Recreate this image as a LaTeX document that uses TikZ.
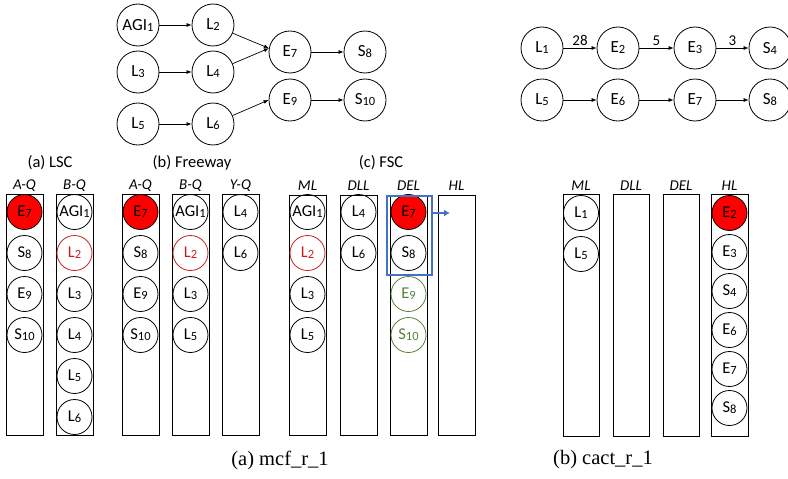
\documentclass[tikz,border=0pt]{standalone}
\usepackage{fontspec}
\newfontfamily\calfont{Carlito}
\newfontfamily\capfont{Liberation Serif}
\usetikzlibrary{arrows.meta}
\definecolor{fillred}{RGB}{255,0,0}
\definecolor{darkred}{RGB}{200,30,30}
\definecolor{mygreen}{RGB}{84,130,53}
\definecolor{myblue}{RGB}{68,114,196}
\newcommand\ix[1]{{\fontsize{12.5}{12.5}\selectfont\raisebox{-1pt}{#1}}}
\begin{document}
\begin{tikzpicture}[x=1pt,y=-1pt,
  big/.style={circle,draw,line width=0.8pt,minimum size=42pt,inner sep=0pt,font=\calfont\fontsize{17}{17}\selectfont},
  sm/.style={circle,draw,line width=0.8pt,minimum size=35pt,inner sep=0pt,font=\calfont\fontsize{16.5}{16.5}\selectfont},
  redfill/.style={fill=fillred},
  redline/.style={draw=darkred,text=darkred},
  greenline/.style={draw=mygreen,text=mygreen},
  colbox/.style={draw,line width=0.8pt},
  arr/.style={-{Latex[length=5pt,width=4pt]},line width=0.7pt},
  qlabel/.style={font=\calfont\itshape\fontsize{15}{15}\selectfont},
  sect/.style={font=\calfont\fontsize{16.5}{16.5}\selectfont},
  wlabel/.style={font=\calfont\fontsize{15}{15}\selectfont,above,inner sep=2pt},
  caption/.style={font=\capfont\fontsize{20.5}{20.5}\selectfont}]
\useasboundingbox (0,0) rectangle (788,479);

% ---------- top-left graph
\node[big] (tAGI) at (138,25) {AGI\ix1};
\node[big] (tL2) at (213,25) {L\ix2};
\node[big] (tL3) at (138,72) {L\ix3};
\node[big] (tL4) at (213,72) {L\ix4};
\node[big] (tL5) at (138,124) {L\ix5};
\node[big] (tL6) at (213,124) {L\ix6};
\node[big] (tE7) at (290,52) {E\ix7};
\node[big] (tS8) at (365,52) {S\ix8};
\node[big] (tE9) at (290,100) {E\ix9};
\node[big] (tS10) at (365,100) {S\ix{10}};
\draw[arr] (tAGI) -- (tL2);
\draw[arr] (tL3) -- (tL4);
\draw[arr] (tL5) -- (tL6);
\draw[arr] (tL2) -- (tE7.170);
\draw[arr] (tL4) -- (tE7.170);
\draw[arr] (tE7) -- (tS8);
\draw[arr] (tL6) -- (tE9.west);
\draw[arr] (tE9) -- (tS10);

% ---------- top-right graph
\node[big] (rL1) at (542,48) {L\ix1};
\node[big] (rE2) at (618,48) {E\ix2};
\node[big] (rE3) at (695,48) {E\ix3};
\node[big] (rS4) at (770,48) {S\ix4};
\node[big] (rL5) at (542,100) {L\ix5};
\node[big] (rE6) at (618,100) {E\ix6};
\node[big] (rE7) at (695,100) {E\ix7};
\node[big] (rS8) at (770,100) {S\ix8};
\draw[arr] (rL1) -- node[wlabel] {28} (rE2);
\draw[arr] (rE2) -- node[wlabel] {5} (rE3);
\draw[arr] (rE3) -- node[wlabel] {3} (rS4);
\draw[arr] (rL5) -- (rE6);
\draw[arr] (rE6) -- (rE7);
\draw[arr] (rE7) -- (rS8);

% ---------- section labels
\node[sect] (sLSC) at (50,163) {(a) LSC};
\node[sect] (sFW) at (192,163) {(b) Freeway};
\node[sect] (sFSC) at (381,163) {(c) FSC};

% ---------- (a) LSC columns
\draw[colbox] (6,194) rectangle (43,435);
\draw[colbox] (56,194) rectangle (93,435);
\node[qlabel] (qa1) at (24.5,186) {A-Q};
\node[qlabel] (qa2) at (74.5,186) {B-Q};
\node[sm,redfill] (aE7) at (24.5,212) {E\ix7};
\node[sm] (aS8) at (24.5,253) {S\ix8};
\node[sm] (aE9) at (24.5,294) {E\ix9};
\node[sm] (aS10) at (24.5,335) {S\ix{10}};
\node[sm] (aAGI) at (74.5,212) {AGI\ix1};
\node[sm,redline] (aL2) at (74.5,253) {L\ix2};
\node[sm] (aL3) at (74.5,294) {L\ix3};
\node[sm] (aL4) at (74.5,335) {L\ix4};
\node[sm] (aL5) at (74.5,376) {L\ix5};
\node[sm] (aL6) at (74.5,417) {L\ix6};

% ---------- (b) Freeway columns
\draw[colbox] (122,194) rectangle (159,435);
\draw[colbox] (172,194) rectangle (209,435);
\draw[colbox] (222,194) rectangle (259,435);
\node[qlabel] (qb1) at (140.5,186) {A-Q};
\node[qlabel] (qb2) at (190.5,186) {B-Q};
\node[qlabel] (qb3) at (240.5,186) {Y-Q};
\node[sm,redfill] (bE7) at (140.5,212) {E\ix7};
\node[sm] (bS8) at (140.5,253) {S\ix8};
\node[sm] (bE9) at (140.5,294) {E\ix9};
\node[sm] (bS10) at (140.5,335) {S\ix{10}};
\node[sm] (bAGI) at (190.5,212) {AGI\ix1};
\node[sm,redline] (bL2) at (190.5,253) {L\ix2};
\node[sm] (bL3) at (190.5,294) {L\ix3};
\node[sm] (bL5) at (190.5,335) {L\ix5};
\node[sm] (bL4) at (240.5,212) {L\ix4};
\node[sm] (bL6) at (240.5,253) {L\ix6};

% ---------- (c) FSC columns
\draw[colbox] (289,195) rectangle (326,435);
\draw[colbox] (340,195) rectangle (377,435);
\draw[colbox] (390,195) rectangle (427,435);
\draw[colbox] (438,195) rectangle (475,435);
\node[qlabel] (qc1) at (307.5,186) {ML};
\node[qlabel] (qc2) at (358.5,186) {DLL};
\node[qlabel] (qc3) at (408.5,186) {DEL};
\node[qlabel] (qc4) at (456.5,186) {HL};
\node[sm] (cAGI) at (307.5,212) {AGI\ix1};
\node[sm,redline] (cL2) at (307.5,253) {L\ix2};
\node[sm] (cL3) at (307.5,294) {L\ix3};
\node[sm] (cL5) at (307.5,335) {L\ix5};
\node[sm] (cL4) at (358.5,212) {L\ix4};
\node[sm] (cL6) at (358.5,253) {L\ix6};
\node[sm,redfill] (cE7) at (408.5,212) {E\ix7};
\node[sm] (cS8) at (408.5,253) {S\ix8};
\node[sm,greenline] (cE9) at (408.5,294) {E\ix9};
\node[sm,greenline] (cS10) at (408.5,335) {S\ix{10}};
\draw[myblue,line width=1.2pt] (387,196) rectangle (432,275);
\coordinate (bstart) at (432,213);
\coordinate (bend) at (450,213);
\draw[myblue,line width=1.3pt,-{Latex[length=6pt,width=7pt]}] (bstart) -- (bend);

% ---------- right columns
\draw[colbox] (563,194) rectangle (599,436);
\draw[colbox] (613,194) rectangle (649,436);
\draw[colbox] (663,194) rectangle (699,436);
\draw[colbox] (711,194) rectangle (748,436);
\node[qlabel] (qd1) at (581,186) {ML};
\node[qlabel] (qd2) at (631,186) {DLL};
\node[qlabel] (qd3) at (681,186) {DEL};
\node[qlabel] (qd4) at (729.5,186) {HL};
\node[sm] (dL1) at (581,213) {L\ix1};
\node[sm] (dL5) at (581,254) {L\ix5};
\node[sm,redfill] (dE2) at (729.5,213) {E\ix2};
\node[sm] (dE3) at (729.5,252) {E\ix3};
\node[sm] (dS4) at (729.5,291) {S\ix4};
\node[sm] (dE6) at (729.5,330) {E\ix6};
\node[sm] (dE7) at (729.5,369) {E\ix7};
\node[sm] (dS8) at (729.5,408) {S\ix8};

% ---------- captions
\node[caption] (capa) at (280,460) {(a) mcf\_r\_1};
\node[caption] (capb) at (603,460) {(b) cact\_r\_1};
\end{tikzpicture}
\end{document}
